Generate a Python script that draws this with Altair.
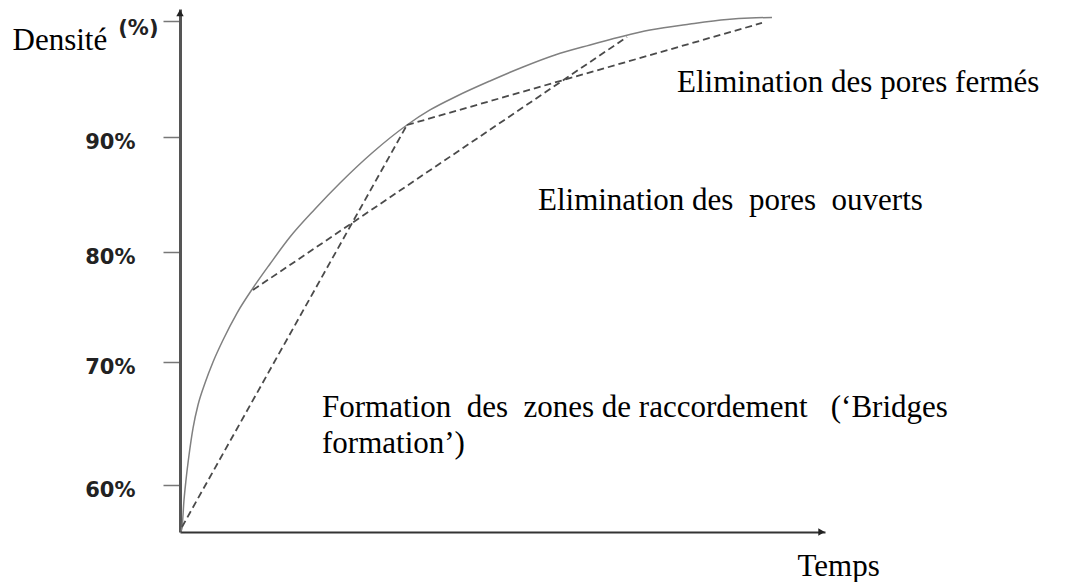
import altair as alt
import pandas as pd

# ---- data ----
# solid densification curve: time (arbitrary units 0-100) and density (%)
curve_t = [0.16, 0.31, 0.62, 0.93, 1.40, 2.02, 2.79, 3.88, 5.12, 6.67, 8.84,
           11.32, 13.95, 17.05, 20.93, 24.81, 29.77, 35.19, 38.76, 42.95,
           48.06, 53.18, 58.14, 63.57, 68.22, 72.87, 79.07, 84.81, 88.37, 91.78]
curve_d = [56.09, 56.34, 58.72, 60.41, 62.44, 64.63, 66.50, 68.29, 70.0, 72.0,
           74.45, 76.73, 78.91, 81.30, 83.74, 86.0, 88.61, 91.03, 92.32, 93.52,
           94.81, 96.01, 97.04, 97.90, 98.58, 99.18, 99.70, 100.09, 100.22, 100.26]

# dashed stage segments (start, end)
seg_names = ["bridges", "bridges", "ouverts", "ouverts", "fermes", "fermes"]
seg_t = [0.31, 35.19, 11.32, 69.30, 35.19, 90.23]
seg_d = [56.43, 91.03, 76.55, 98.58, 91.03, 99.79]

# annotations
NB = "\u00a0"
ann_text = ["Elimination des pores fermés",
            "Elimination des" + NB + " pores" + NB + " ouverts",
            "Formation" + NB + " des" + NB + " zones de raccordement"
            + NB * 2 + " (\u2018Bridges",
            "formation\u2019)"]
ann_t = [77.05, 55.50, 22.02, 22.02]
ann_d = [93.85, 83.65, 65.53, 62.60]

# axis arrows
arrow_t = [0.0, 99.46]
arrow_d = [100.65, 56.0]
arrow_shape = ["triangle-up", "triangle-right"]

# y ticks (hand-drawn axis: tick spacing slightly irregular)
y_ticks = [60, 70, 80, 90, 100]
y_domain = [56, 60, 70, 80, 90, 100, 101]
y_range = [523, 476, 353, 243, 128, 11.5, 0]

curve_df = pd.DataFrame({"t": curve_t, "d": curve_d})
seg_df = pd.DataFrame({"t": seg_t, "d": seg_d, "seg": seg_names})
ann_df = pd.DataFrame({"t": ann_t, "d": ann_d, "label": ann_text})
arrow_df = pd.DataFrame({"t": arrow_t, "d": arrow_d, "shape": arrow_shape})

x_scale = alt.Scale(domain=[0, 100], nice=False, zero=False)
y_scale = alt.Scale(domain=y_domain, range=y_range, nice=False, zero=False)

x_axis = alt.Axis(
    title="Temps", ticks=False, labels=False, grid=False,
    domainColor="#333333", domainWidth=2,
    titleAngle=0, titleX=617, titleY=43, titleAlign="left",
    titleBaseline="alphabetic", titleFont="Liberation Serif",
    titleFontSize=31, titleFontWeight="normal", titleColor="#000000",
)
y_axis = alt.Axis(
    title="Densité", values=y_ticks, grid=False,
    labelExpr="datum.value == 100 ? '(%)' : datum.value + '%'",
    labelFont="DejaVu Sans", labelFontWeight="bold", labelFontSize=21,
    labelColor="#222222", labelAlign="right", labelBaseline="alphabetic",
    labelOffset={"condition": {"test": "datum.value == 100", "value": 14}, "value": 11},
    labelPadding={"condition": {"test": "datum.value == 100", "value": 5}, "value": 28},
    labelOverlap=False, labelFlush=False, labelBound=False,
    tickSize=17, tickColor="#777777", tickWidth=1.5,
    domainColor="#555555", domainWidth=3,
    titleAngle=0, titleX=-168, titleY=40, titleAlign="left",
    titleBaseline="alphabetic", titleFont="Liberation Serif",
    titleFontSize=31, titleFontWeight="normal", titleColor="#000000",
)

X = alt.X("t:Q", scale=x_scale, axis=x_axis)
Y = alt.Y("d:Q", scale=y_scale, axis=y_axis)

curve = alt.Chart(curve_df).mark_line(
    color="#808080", strokeWidth=1.5, interpolate="monotone"
).encode(x=X, y=Y)

segs = alt.Chart(seg_df).mark_line(
    color="#4a4a4a", strokeWidth=1.8, strokeDash=[7, 4]
).encode(x=X, y=Y, detail="seg:N")

arrows = alt.Chart(arrow_df).mark_point(
    filled=True, color="#222222", size=55, opacity=1
).encode(x=X, y=Y, shape=alt.Shape("shape:N", scale=None))

texts = alt.Chart(ann_df).mark_text(
    align="left", baseline="alphabetic", font="Liberation Serif",
    fontSize=31, color="#000000"
).encode(x=X, y=Y, text="label:N")

chart = alt.layer(curve, segs, arrows, texts).properties(
    width=645, height=523,
    padding={"left": 172, "top": 1, "right": 225, "bottom": 50},
    autosize=alt.AutoSizeParams(type="none"),
    background="#ffffff",
).configure_view(strokeWidth=0)

chart.save("out.html", embed_options={"renderer": "svg", "actions": False})
